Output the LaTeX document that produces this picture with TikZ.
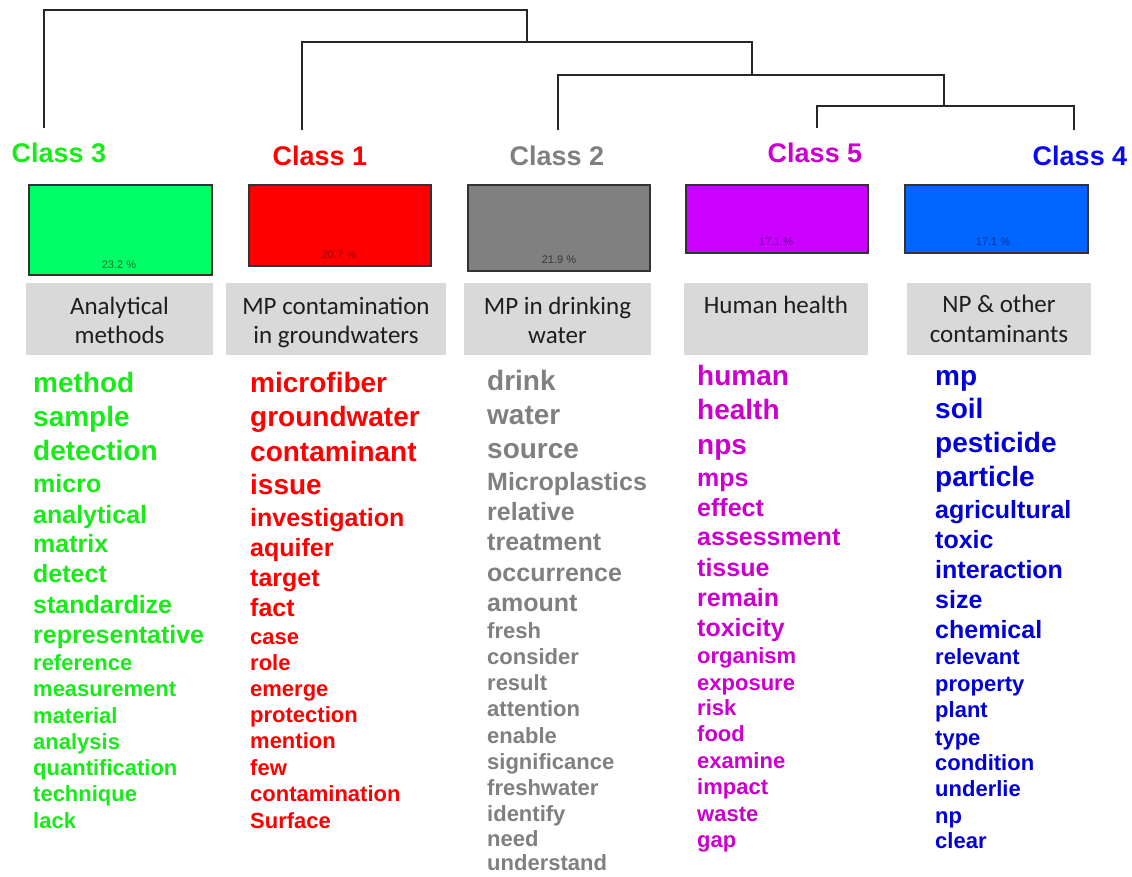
\documentclass[tikz,border=0pt]{standalone}
\usepackage{fontspec}
\setmainfont{Liberation Sans}
\newfontfamily\carlito{Carlito}
\definecolor{cgreen}{RGB}{25,235,25}
\definecolor{cgreenbox}{RGB}{0,255,102}
\definecolor{cred}{RGB}{255,0,0}
\definecolor{cgray}{RGB}{128,128,128}
\definecolor{cmag}{RGB}{204,0,204}
\definecolor{cmagbox}{RGB}{204,0,255}
\definecolor{cblue}{RGB}{0,0,215}
\definecolor{cclassblue}{RGB}{10,10,240}
\definecolor{cbluebox}{RGB}{0,102,255}
\definecolor{labfill}{RGB}{217,217,217}
\definecolor{labtext}{RGB}{30,30,30}
\begin{document}
\begin{tikzpicture}[x=1pt,y=-1pt,
  dendro/.style={line width=1.4pt, black!85},
  classlab/.style={anchor=base, inner sep=0pt, font=\fontsize{27}{30}\selectfont\bfseries},
  pbox/.style={draw=black!80, line width=1.3pt, inner sep=0pt},
  pct/.style={anchor=mid, inner sep=0pt, font=\fontsize{11}{12}\selectfont},
  labbox/.style={fill=labfill, inner sep=0pt, minimum height=72pt},
  labline/.style={anchor=base, inner sep=0pt, text=labtext, font=\carlito\fontsize{25}{28}\selectfont},
  wL/.style={anchor=mid west, inner sep=0pt, yshift=-6pt, font=\fontsize{28}{30}\selectfont\bfseries},
  wM/.style={anchor=mid west, inner sep=0pt, yshift=-6pt, font=\fontsize{25}{27}\selectfont\bfseries},
  wS/.style={anchor=mid west, inner sep=0pt, yshift=-6pt, font=\fontsize{22}{24}\selectfont\bfseries},
]
\useasboundingbox[fill=white] (0,0) rectangle (1132,876);

% ---------- class labels ----------
\node[classlab, text=cgreen] (c3) at (59,162) {Class 3};
\node[classlab, text=cred] (c1) at (320,165) {Class 1};
\node[classlab, text=cgray] (c2) at (557,165) {Class 2};
\node[classlab, text=cmag] (c5) at (815,162) {Class 5};
\node[classlab, text=cclassblue] (c4) at (1080,165) {Class 4};

% ---------- dendrogram ----------
\coordinate (l3) at (44,128);
\coordinate (l1) at (302,130);
\coordinate (l2) at (558,130);
\coordinate (l5) at (817,128);
\coordinate (l4) at (1074,130);
\coordinate (m54) at (944,106);
\coordinate (m254) at (752,75);
\coordinate (m1254) at (527,42);
\coordinate (root) at (285,10);
\draw[dendro] (l5) |- (m54) -| (l4);
\draw[dendro] (l2) |- (m254) -| (m54);
\draw[dendro] (l1) |- (m1254) -| (m254);
\draw[dendro] (l3) |- (root) -| (m1254);

% ---------- percentage boxes ----------
\node[pbox, fill=cgreenbox, minimum width=183pt, minimum height=90pt] (b3) at (120.5,230) {};
\node[pbox, fill=cred, minimum width=182pt, minimum height=81pt] (b1) at (340,225.5) {};
\node[pbox, fill=cgray, minimum width=182pt, minimum height=86pt] (b2) at (559,228) {};
\node[pbox, fill=cmagbox, minimum width=182pt, minimum height=68pt] (b5) at (777,219) {};
\node[pbox, fill=cbluebox, minimum width=183pt, minimum height=68pt] (b4) at (996.5,219) {};
\node[pct, text={rgb,255:red,20;green,110;blue,40}] (p3) at (119,266) {23.2 \%};
\node[pct, text={rgb,255:red,150;green,0;blue,0}] (p1) at (339,256) {20.7 \%};
\node[pct, text={rgb,255:red,55;green,55;blue,55}] (p2) at (559,261) {21.9 \%};
\node[pct, text={rgb,255:red,110;green,0;blue,150}] (p5) at (776,243) {17.1 \%};
\node[pct, text={rgb,255:red,0;green,50;blue,150}] (p4) at (993,243) {17.1 \%};

% ---------- topic label boxes ----------
\node[labbox, minimum width=187pt] (k3) at (119.5,319) {};
\node[labbox, minimum width=220pt] (k1) at (336,319) {};
\node[labbox, minimum width=187pt] (k2) at (557.5,319) {};
\node[labbox, minimum width=184pt] (k5) at (776,319) {};
\node[labbox, minimum width=184pt] (k4) at (999,319) {};
\node[labline] (k3a) at (119.5,314) {Analytical};
\node[labline] (k3b) at (119.5,343) {methods};
\node[labline] (k1a) at (336,314) {MP contamination};
\node[labline] (k1b) at (336,343) {in groundwaters};
\node[labline] (k2a) at (557.5,314) {MP in drinking};
\node[labline] (k2b) at (557.5,343) {water};
\node[labline] (k5a) at (776,313) {Human health};
\node[labline] (k4a) at (999,312) {NP \& other};
\node[labline] (k4b) at (999,342) {contaminants};

% ---------- Class 3 words ----------
\foreach \w/\y in {method/384, sample/418, detection/452}
  \node[wL, text=cgreen] (g-\w) at (33,\y) {\w};
\foreach \w/\y in {micro/484, analytical/515, matrix/544, detect/574, standardize/605, representative/635}
  \node[wM, text=cgreen] (g-\w) at (33,\y) {\w};
\foreach \w/\y in {reference/662, measurement/688, material/715, analysis/741, quantification/767, technique/793, lack/820}
  \node[wS, text=cgreen] (g-\w) at (33,\y) {\w};

% ---------- Class 1 words ----------
\foreach \w/\y in {microfiber/384, groundwater/418, contaminant/453, issue/486}
  \node[wL, text=cred] (r-\w) at (250,\y) {\w};
\foreach \w/\y in {investigation/518, aquifer/548, target/578, fact/608}
  \node[wM, text=cred] (r-\w) at (250,\y) {\w};
\foreach \w/\y in {case/636, role/662, emerge/688, protection/714, mention/740, few/767, contamination/793, Surface/820}
  \node[wS, text=cred] (r-\w) at (250,\y) {\w};

% ---------- Class 2 words ----------
\foreach \w/\y in {drink/382, water/416, source/450}
  \node[wL, text=cgray] (y-\w) at (487,\y) {\w};
\foreach \w/\y in {Microplastics/482, relative/512, treatment/542, occurrence/573, amount/603}
  \node[wM, text=cgray] (y-\w) at (487,\y) {\w};
\foreach \w/\y in {fresh/630, consider/656, result/682, attention/708, enable/735, significance/761, freshwater/787, identify/813, need/838, understand/862}
  \node[wS, text=cgray] (y-\w) at (487,\y) {\w};

% ---------- Class 5 words ----------
\foreach \w/\y in {human/377, health/411, nps/446}
  \node[wL, text=cmag] (m-\w) at (697,\y) {\w};
\foreach \w/\y in {mps/478, effect/508, assessment/537, tissue/568, remain/598, toxicity/628}
  \node[wM, text=cmag] (m-\w) at (697,\y) {\w};
\foreach \w/\y in {organism/655, exposure/682, risk/707, food/733, examine/760, impact/786, waste/813, gap/839}
  \node[wS, text=cmag] (m-\w) at (697,\y) {\w};

% ---------- Class 4 words ----------
\foreach \w/\y in {mp/377, soil/410, pesticide/444, particle/478}
  \node[wL, text=cblue] (u-\w) at (935,\y) {\w};
\foreach \w/\y in {agricultural/510, toxic/540, interaction/570, size/600, chemical/630}
  \node[wM, text=cblue] (u-\w) at (935,\y) {\w};
\foreach \w/\y in {relevant/656, property/683, plant/709, type/737, condition/762, underlie/788, np/815, clear/840}
  \node[wS, text=cblue] (u-\w) at (935,\y) {\w};
\end{tikzpicture}
\end{document}
